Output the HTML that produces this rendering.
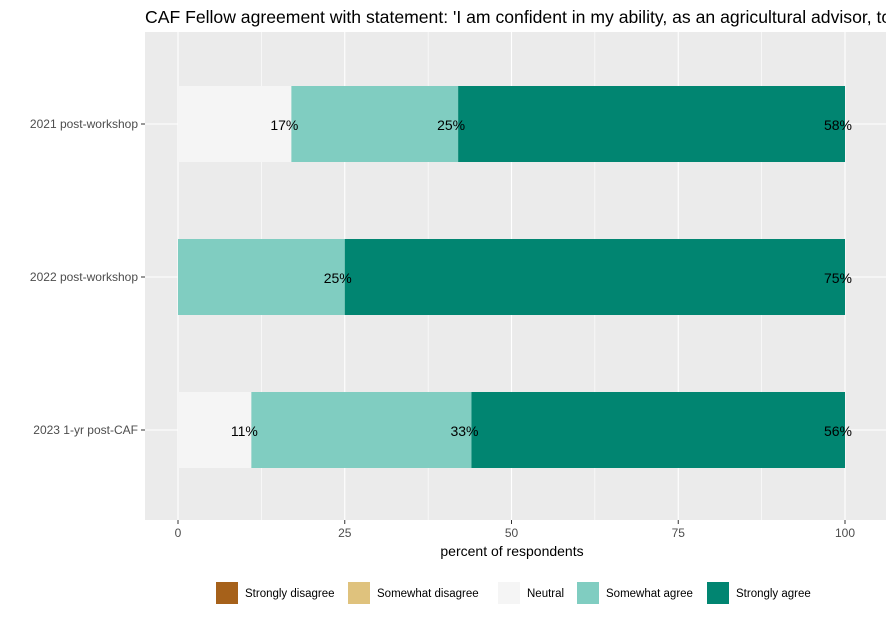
<!DOCTYPE html>
<html><head><meta charset="utf-8"><style>
body{margin:0;background:#fff;font-family:"Liberation Sans",Arial,sans-serif}
svg text{font-family:"Liberation Sans",Arial,sans-serif}
</style></head><body>
<svg id="c" width="886" height="618" xmlns="http://www.w3.org/2000/svg"></svg>
<script>
const categories=["2021 post-workshop","2022 post-workshop","2023 1-yr post-CAF"];
const levels=["Strongly disagree","Somewhat disagree","Neutral","Somewhat agree","Strongly agree"];
const colors=["#A6611A","#DFC27D","#F5F5F5","#80CDC1","#018571"];
const sDisagree=[0,0,0];
const wDisagree=[0,0,0];
const neutral=[17,0,11];
const wAgree=[25,25,33];
const sAgree=[58,75,56];
const xTicks=[0,25,50,75,100];
const series=[sDisagree,wDisagree,neutral,wAgree,sAgree];
const NS="http://www.w3.org/2000/svg";
const svg=document.getElementById('c');
function el(t,a,p){const e=document.createElementNS(NS,t);for(const k in a)e.setAttribute(k,a[k]);(p||svg).appendChild(e);return e;}
const x=v=>178+v*6.67;
const yc=[124,277,430];
const y=i=>yc[i];
let r=el('rect',{x:145,y:32,width:741,height:488,fill:'#EBEBEB'});

for(let i=0;i<xTicks.length-1;i++){const m=(xTicks[i]+xTicks[i+1])/2;
 let g=el('line',{x1:x(m),x2:x(m),y1:32,y2:520,stroke:'#fff','stroke-width':0.6});
 }
categories.forEach((c,i)=>{let g=el('line',{x1:145,x2:886,y1:y(i),y2:y(i),stroke:'#fff','stroke-width':1.1});
 });
xTicks.forEach(t=>{let g=el('line',{x1:x(t),x2:x(t),y1:32,y2:520,stroke:'#fff','stroke-width':1.1});
 
 let tk=el('line',{x1:x(t),x2:x(t),y1:520,y2:524,stroke:'#333'});
 
 let tx=el('text',{x:x(t),y:537,'text-anchor':'middle','font-size':12,fill:'#4D4D4D'});tx.textContent=t;
 });
const labels=[];
categories.forEach((c,i)=>{
 let tk=el('line',{x1:141,x2:145,y1:y(i),y2:y(i),stroke:'#333'});
 
 let tx=el('text',{x:138,y:y(i)+4,'text-anchor':'end','font-size':12,fill:'#4D4D4D'});tx.textContent=c;
 
 let cum=0;
 series.forEach((s,k)=>{const v=s[i];if(v<=0)return;
  let b=el('rect',{x:x(cum),y:y(i)-38,width:x(cum+v)-x(cum),height:76,fill:colors[k]});
  
  cum+=v;
  labels.push([x(cum),y(i),v]);
 });
});
labels.forEach(L=>{
 let l=el('text',{x:L[0]-7,y:L[1]+6,'text-anchor':'middle','font-size':14,fill:'#000'});l.textContent=L[2]+'%';
 
});
let t=el('text',{x:145,y:23,'font-size':17.6,fill:'#000'});t.textContent="CAF Fellow agreement with statement: 'I am confident in my ability, as an agricultural advisor, to";

let xt=el('text',{x:512,y:556,'text-anchor':'middle','font-size':14,fill:'#000'});xt.textContent='percent of respondents';

const lx=[216,348,498,577,707];
levels.forEach((lv,k)=>{
 let g=el('g',{});
 el('rect',{x:lx[k],y:582,width:22,height:22,fill:colors[k]},g);
 let tx=el('text',{x:lx[k]+29,y:597,'font-size':11.5,fill:'#000'},g);tx.textContent=lv;
});
</script>
</body></html>
